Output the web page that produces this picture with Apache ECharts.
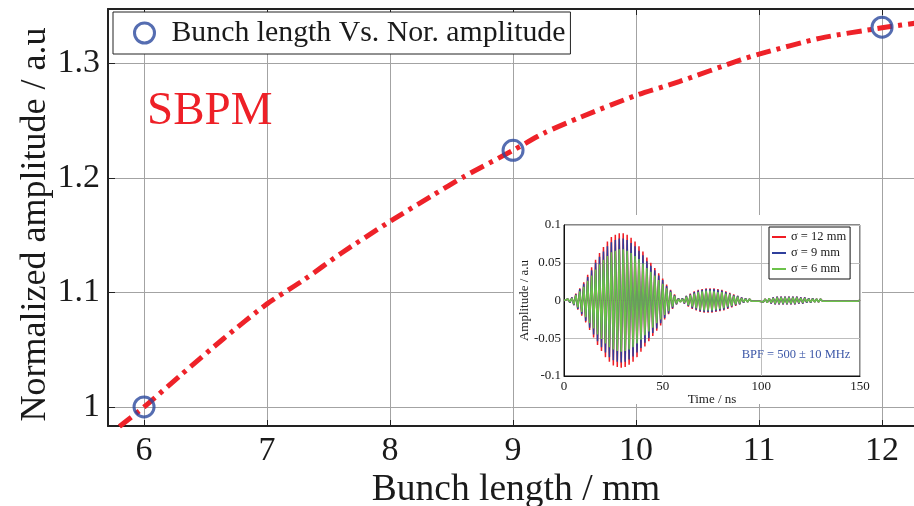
<!DOCTYPE html>
<html>
<head>
<meta charset="utf-8">
<script src="https://cdn.jsdelivr.net/npm/echarts@6/dist/echarts.min.js"></script>
<style>html,body{margin:0;padding:0;background:#fff;}#c{width:914px;height:506px;}</style>
</head>
<body>
<div id="c"></div>
<script>
// ---- Main chart data ----
const bunchLength = [5.8, 6.0, 6.3, 6.65, 7.0, 7.3, 7.6, 8.0, 8.35, 8.6, 9.0, 9.25, 9.55, 10.0, 10.35, 10.85, 11.0, 11.5, 12.0, 12.34];
const norAmplitude = [0.983, 1.0, 1.028, 1.06, 1.09, 1.111, 1.134, 1.162, 1.185, 1.201, 1.224, 1.239, 1.253, 1.272, 1.284, 1.303, 1.308, 1.322, 1.331, 1.336];
const markerLength = [6, 9, 12];
const markerAmplitude = [1.0, 1.224, 1.3315];
const xTicks = [6, 7, 8, 9, 10, 11, 12];
const yTicks = [1, 1.1, 1.2, 1.3];

// ---- Inset data (one sample per ns, 0..150 ns) ----
const sigma12 = [
0, -0.001, 0.002, -0.003, 0.004, -0.006, 0.009, -0.012, 0.016, -0.020,
0.024, -0.029, 0.034, -0.039, 0.044, -0.049, 0.054, -0.059, 0.063, -0.067,
0.071, -0.075, 0.078, -0.081, 0.084, -0.086, 0.087, -0.088, 0.089, -0.089,
0.089, -0.088, 0.087, -0.085, 0.083, -0.081, 0.078, -0.075, 0.072, -0.068,
0.065, -0.061, 0.057, -0.054, 0.050, -0.047, 0.043, -0.040, 0.036, -0.033,
0.029, -0.025, 0.021, -0.018, 0.014, -0.011, 0.008, -0.005, 0.003, -0.002,
0.003, -0.004, 0.006, -0.008, 0.009, -0.011, 0.012, -0.013, 0.014, -0.015,
0.015, -0.016, 0.016, -0.016, 0.016, -0.016, 0.016, -0.015, 0.015, -0.014,
0.014, -0.013, 0.012, -0.011, 0.010, -0.009, 0.008, -0.007, 0.006, -0.005,
0.004, -0.003, 0.003, -0.002, 0.002, -0.001, 0.001, -0.001, 0.001, -0.001,
0.001, -0.002, 0.002, -0.003, 0.003, -0.004, 0.004, -0.005, 0.005, -0.005,
0.005, -0.005, 0.005, -0.005, 0.005, -0.005, 0.005, -0.005, 0.005, -0.004,
0.004, -0.004, 0.004, -0.003, 0.003, -0.003, 0.003, -0.002, 0.002, -0.002,
0.002, -0.001, 0.001, -0.001, 0.001, -0.001, 0.001, -0.001, 0.001, -0.001,
0.001, -0.001, 0.001, -0.001, 0.001, -0.001, 0.001, -0.001, 0.001, -0.001,
0.001];
const sigma9 = [
0, -0.001, 0.002, -0.003, 0.004, -0.006, 0.008, -0.011, 0.015, -0.018,
0.022, -0.027, 0.031, -0.036, 0.040, -0.045, 0.050, -0.054, 0.058, -0.062,
0.065, -0.069, 0.072, -0.075, 0.077, -0.079, 0.080, -0.081, 0.082, -0.082,
0.082, -0.081, 0.080, -0.078, 0.076, -0.074, 0.072, -0.069, 0.066, -0.063,
0.060, -0.056, 0.052, -0.050, 0.046, -0.043, 0.040, -0.037, 0.033, -0.030,
0.027, -0.023, 0.019, -0.017, 0.013, -0.010, 0.007, -0.005, 0.003, -0.002,
0.003, -0.004, 0.006, -0.007, 0.008, -0.010, 0.011, -0.012, 0.013, -0.014,
0.014, -0.015, 0.015, -0.015, 0.015, -0.015, 0.015, -0.014, 0.014, -0.013,
0.013, -0.012, 0.011, -0.010, 0.009, -0.008, 0.007, -0.006, 0.006, -0.005,
0.004, -0.003, 0.003, -0.002, 0.002, -0.001, 0.001, -0.001, 0.001, -0.001,
0.001, -0.002, 0.002, -0.003, 0.003, -0.004, 0.004, -0.005, 0.005, -0.005,
0.005, -0.005, 0.005, -0.005, 0.005, -0.005, 0.005, -0.005, 0.005, -0.004,
0.004, -0.004, 0.004, -0.003, 0.003, -0.003, 0.003, -0.002, 0.002, -0.002,
0.002, -0.001, 0.001, -0.001, 0.001, -0.001, 0.001, -0.001, 0.001, -0.001,
0.001, -0.001, 0.001, -0.001, 0.001, -0.001, 0.001, -0.001, 0.001, -0.001,
0.001];
const sigma6 = [
0, -0.001, 0.002, -0.002, 0.003, -0.005, 0.007, -0.009, 0.012, -0.015,
0.018, -0.022, 0.026, -0.030, 0.033, -0.037, 0.041, -0.045, 0.048, -0.051,
0.054, -0.057, 0.059, -0.062, 0.064, -0.065, 0.066, -0.067, 0.068, -0.068,
0.068, -0.067, 0.066, -0.065, 0.063, -0.062, 0.059, -0.057, 0.055, -0.052,
0.049, -0.046, 0.043, -0.041, 0.038, -0.036, 0.033, -0.030, 0.027, -0.025,
0.022, -0.019, 0.016, -0.014, 0.011, -0.008, 0.006, -0.004, 0.002, -0.002,
0.002, -0.003, 0.005, -0.006, 0.007, -0.008, 0.009, -0.010, 0.011, -0.012,
0.012, -0.013, 0.013, -0.013, 0.013, -0.013, 0.012, -0.012, 0.011, -0.011,
0.011, -0.010, 0.009, -0.008, 0.008, -0.007, 0.006, -0.005, 0.005, -0.004,
0.003, -0.002, 0.002, -0.002, 0.002, -0.001, 0.001, -0.001, 0.001, -0.001,
0.001, -0.002, 0.002, -0.003, 0.003, -0.003, 0.003, -0.004, 0.004, -0.004,
0.004, -0.004, 0.004, -0.004, 0.004, -0.004, 0.004, -0.004, 0.004, -0.003,
0.003, -0.003, 0.003, -0.002, 0.002, -0.002, 0.002, -0.002, 0.002, -0.002,
0.002, -0.001, 0.001, -0.001, 0.001, -0.001, 0.001, -0.001, 0.001, -0.001,
0.001, -0.001, 0.001, -0.001, 0.001, -0.001, 0.001, -0.001, 0.001, -0.001,
0.001];
const timeStepNs = 1;
const insetNames = ['\u03c3 = 12 mm', '\u03c3 = 9 mm', '\u03c3 = 6 mm'];
const insetColors = ['#f01c24', '#2f3f9c', '#6cc24a'];

const FONT = 'Liberation Serif';
const DARK = '#1a1a1a';
const MARK = '#2b489e';

function pairs(xs, ys) { return xs.map((x, i) => [x, ys[i]]); }
function timeSeries(arr) { return arr.map((v, i) => [i * timeStepNs, v]); }

const chart = echarts.init(document.getElementById('c'), null, {renderer: 'canvas'});
chart.setOption({
  animation: false,
  backgroundColor: '#fff',
  grid: [
    {left: 108, top: 9, width: 816, height: 417, outerBoundsMode: 'none', containLabel: false},
    {left: 564, top: 225, width: 296, height: 151, outerBoundsMode: 'none', containLabel: false, show: true, backgroundColor: '#fff', borderColor: '#111', borderWidth: 1, z: 3}
  ],
  xAxis: [
    {
      gridIndex: 0, type: 'value', min: 5.707, max: 12.341, position: 'bottom',
      axisLine: {show: true, onZero: false, lineStyle: {color: '#222', width: 2}},
      axisTick: {show: true, inside: true, length: 6, customValues: xTicks, lineStyle: {color: '#222', width: 1}},
      axisLabel: {customValues: xTicks, fontSize: 34, fontFamily: FONT, color: DARK, margin: 8},
      splitLine: {show: true, lineStyle: {color: '#a3a3a3', width: 1}},
      name: 'Bunch length / mm', nameLocation: 'middle', nameGap: 45, nameMoveOverlap: false,
      nameTextStyle: {fontSize: 37.5, fontFamily: FONT, color: DARK}
    },
    {
      gridIndex: 0, type: 'value', min: 5.707, max: 12.341, position: 'top',
      axisLine: {show: true, onZero: false, lineStyle: {color: '#222', width: 2}},
      axisTick: {show: true, inside: true, length: 6, customValues: xTicks, lineStyle: {color: '#222', width: 1}},
      axisLabel: {show: false},
      splitLine: {show: false}
    },
    {
      gridIndex: 1, type: 'value', min: 0, max: 150, interval: 50, z: 3,
      axisLine: {show: true, onZero: false, lineStyle: {color: '#111', width: 1}},
      axisTick: {show: false},
      axisLabel: {fontSize: 13, fontFamily: FONT, color: DARK, margin: 4},
      splitLine: {show: true, lineStyle: {color: '#bdbdbd', width: 1}},
      name: 'Time / ns', nameLocation: 'middle', nameGap: 17, nameMoveOverlap: false,
      nameTextStyle: {fontSize: 13, fontFamily: FONT, color: DARK}
    }
  ],
  yAxis: [
    {
      gridIndex: 0, type: 'value', min: 0.9834, max: 1.3474,
      axisLine: {show: true, onZero: false, lineStyle: {color: '#222', width: 2}},
      axisTick: {show: true, inside: true, length: 7, customValues: yTicks, lineStyle: {color: '#222', width: 1}},
      axisLabel: {customValues: yTicks, fontSize: 34, fontFamily: FONT, color: DARK, margin: 8},
      splitLine: {show: true, lineStyle: {color: '#a3a3a3', width: 1}},
      name: 'Normalized amplitude / a.u', nameLocation: 'middle', nameGap: 54, nameRotate: 90, nameMoveOverlap: false,
      nameTextStyle: {fontSize: 36, fontFamily: FONT, color: DARK, padding: [0, 14, 0, 0]}
    },
    {
      gridIndex: 1, type: 'value', min: -0.1, max: 0.1, interval: 0.05, z: 3,
      axisLine: {show: true, onZero: false, lineStyle: {color: '#111', width: 1}},
      axisTick: {show: false},
      axisLabel: {fontSize: 13, fontFamily: FONT, color: DARK, margin: 3},
      splitLine: {show: true, lineStyle: {color: '#bdbdbd', width: 1}},
      name: 'Amplitude / a.u', nameLocation: 'middle', nameGap: 33, nameRotate: 90, nameMoveOverlap: false,
      nameTextStyle: {fontSize: 13, fontFamily: FONT, color: DARK}
    }
  ],
  legend: [
    {
      data: [{name: 'Bunch length Vs. Nor. amplitude', icon: 'circle'}],
      left: 113, top: 12, padding: [5, 5, 5, 20],
      itemWidth: 20, itemHeight: 20,
      backgroundColor: '#fff', borderColor: '#222', borderWidth: 1,
      itemStyle: {color: 'rgba(0,0,0,0)', borderColor: MARK, borderWidth: 3},
      textStyle: {fontSize: 29.8, fontFamily: FONT, color: DARK, lineHeight: 32, padding: [0, 0, 0, 12]},
      z: 5
    },
    {
      data: insetNames.map(n => ({name: n, icon: 'rect'})),
      left: 769, top: 227, orient: 'vertical', padding: [3, 4, 3, 3],
      itemWidth: 14, itemHeight: 2, itemGap: 2,
      backgroundColor: '#fff', borderColor: '#111', borderWidth: 1,
      textStyle: {fontSize: 12.5, fontFamily: FONT, color: DARK, lineHeight: 14},
      z: 6
    }
  ],
  graphic: [
    {type: 'rect', z: 1, shape: {x: 514, y: 215, width: 348, height: 189}, style: {fill: '#fff'}},
    {type: 'text', z: 5, x: 147, y: 112, style: {text: 'SBPM', font: '47px "Liberation Serif"', fill: '#ee2027', verticalAlign: 'middle', align: 'left'}},
    {type: 'text', z: 6, x: 796, y: 355, style: {text: 'BPF = 500 \u00b1 10 MHz', font: '12.5px "Liberation Serif"', fill: '#3d58a8', verticalAlign: 'middle', align: 'center'}}
  ],
  series: [
    {
      name: 'curve', type: 'line', xAxisIndex: 0, yAxisIndex: 0,
      data: pairs(bunchLength, norAmplitude), smooth: 0.25, showSymbol: false, clip: true,
      lineStyle: {color: '#ee2229', width: 5, type: [15, 6, 4, 6]}, z: 2
    },
    {
      name: 'Bunch length Vs. Nor. amplitude', type: 'scatter', xAxisIndex: 0, yAxisIndex: 0,
      data: pairs(markerLength, markerAmplitude), symbol: 'circle', symbolSize: 20,
      itemStyle: {color: 'rgba(0,0,0,0)', borderColor: MARK, borderWidth: 3}, z: 4
    },
    {
      name: insetNames[0], type: 'line', xAxisIndex: 2, yAxisIndex: 1, data: timeSeries(sigma12),
      showSymbol: false, lineStyle: {color: insetColors[0], width: 1.5}, itemStyle: {color: insetColors[0]}, z: 4
    },
    {
      name: insetNames[1], type: 'line', xAxisIndex: 2, yAxisIndex: 1, data: timeSeries(sigma9),
      showSymbol: false, lineStyle: {color: insetColors[1], width: 1.5}, itemStyle: {color: insetColors[1]}, z: 4
    },
    {
      name: insetNames[2], type: 'line', xAxisIndex: 2, yAxisIndex: 1, data: timeSeries(sigma6),
      showSymbol: false, lineStyle: {color: insetColors[2], width: 1.5}, itemStyle: {color: insetColors[2]}, z: 4
    }
  ]
});
</script>
</body>
</html>
